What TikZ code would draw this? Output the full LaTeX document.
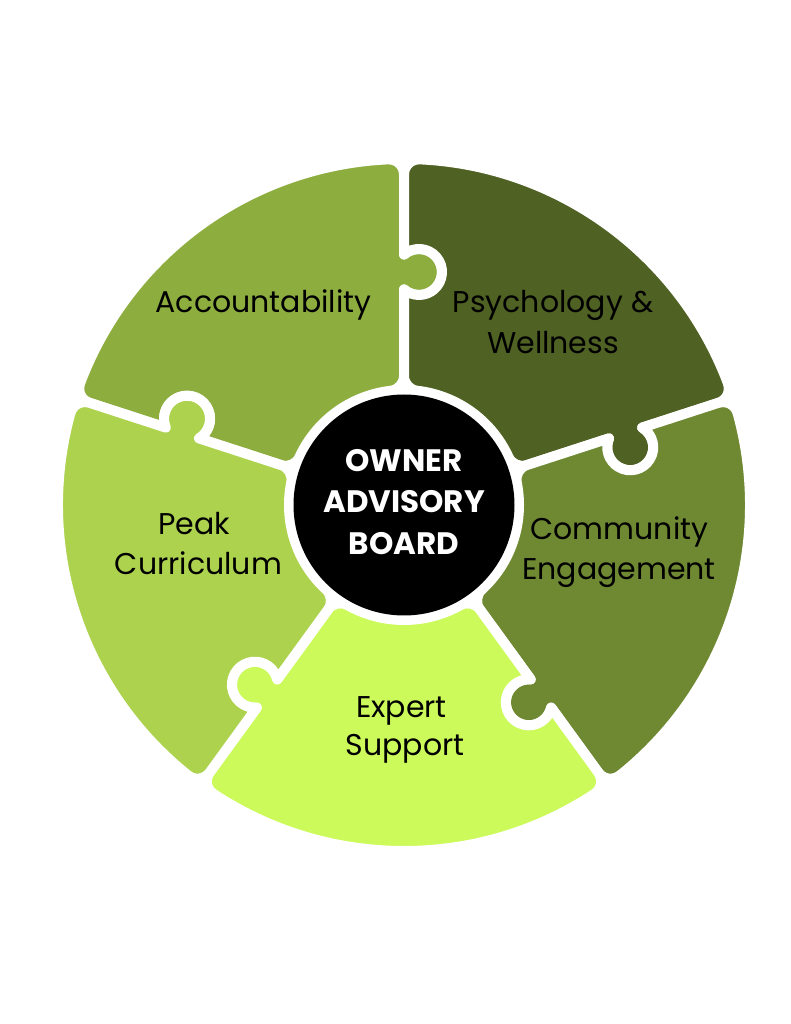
\documentclass[tikz,border=0pt]{standalone}
\usepackage{fontspec}
\setmainfont{Poppins}
\definecolor{cAcc}{RGB}{141,174,63}
\definecolor{cPsy}{RGB}{79,97,35}
\definecolor{cCom}{RGB}{111,137,51}
\definecolor{cExp}{RGB}{204,250,90}
\definecolor{cPeak}{RGB}{173,210,78}
\newcommand\puzzlepiece[3]{%
  \begin{scope}[rotate=#1]
    \path[piece=#2] (129.13,0) -- (215.57,0)
      arc[start angle=139.25, end angle=400.75, radius=23]
      -- (330.66,0)
      arc[start angle=-90, end angle=2.597, radius=15]
      arc[start angle=2.597, end angle=69.403, radius=346]
      arc[start angle=69.403, end angle=162, radius=15]
      -- (72:250.43)
      arc[start angle=472.75, end angle=211.25, radius=23]
      -- (72:129.13)
      arc[start angle=162, end angle=245.374, radius=15]
      arc[start angle=65.374, end angle=6.626, radius=115]
      arc[start angle=186.626, end angle=270, radius=15]
      -- cycle;
    \coordinate (#3) at (36:230);
  \end{scope}}
\begin{document}
\begin{tikzpicture}[x=1pt,y=1pt,
  piece/.style={fill=#1, draw=white, line width=10pt, line join=round},
  lbl/.style={anchor=base, inner sep=0pt, text=black, font=\fontsize{30}{36}\selectfont},
  hubtxt/.style={anchor=base, inner sep=0pt, text=white, font=\fontsize{31}{37}\selectfont\bfseries}]
\useasboundingbox[fill=white] (-404,-519) rectangle (387,505);
\puzzlepiece{90}{cAcc}{pAcc}
\puzzlepiece{18}{cPsy}{pPsy}
\puzzlepiece{-54}{cCom}{pCom}
\puzzlepiece{-126}{cExp}{pExp}
\puzzlepiece{162}{cPeak}{pPeak}
\node[circle, fill=black, minimum size=221pt, inner sep=0pt] (hub) at (0,0) {};
\node[hubtxt] (h1) at (0,33) {OWNER};
\node[hubtxt] (h2) at (0,-8) {ADVISORY};
\node[hubtxt] (h3) at (0,-50) {BOARD};
\node[lbl] (acc) at (-140.5,192) {Accountability};
\node[lbl] (psy1) at (149,192) {Psychology \&};
\node[lbl] (psy2) at (149,151) {Wellness};
\node[lbl] (com1) at (215.5,-35) {Community};
\node[lbl] (com2) at (215,-75) {Engagement};
\node[lbl] (peak1) at (-210,-30) {Peak};
\node[lbl] (peak2) at (-205.5,-70) {Curriculum};
\node[lbl] (exp1) at (-2.5,-212) {Expert};
\node[lbl] (exp2) at (1,-250) {Support};
\end{tikzpicture}
\end{document}
